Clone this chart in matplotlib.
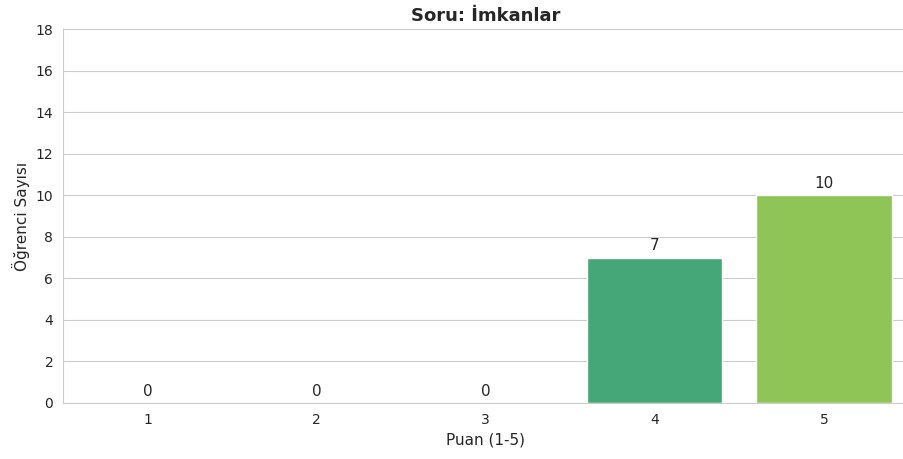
import matplotlib
matplotlib.use("Agg")
from matplotlib import pyplot as plt
import seaborn as sns
import pandas as pd

# data
puan = ["1", "2", "3", "4", "5"]
ogrenci_sayisi = [0, 0, 0, 7, 10]

sns.set_style("whitegrid")
plt.rcParams["font.family"] = ["DejaVu Sans"]

df = pd.DataFrame({"Puan": puan, "Sayi": ogrenci_sayisi})

fig = plt.figure(figsize=(9.04, 4.59), dpi=100)
ax = fig.add_axes([63/904, 56/459, 845.5/904, 374/459])

sns.barplot(data=df, x="Puan", y="Sayi", hue="Puan", palette="viridis",
            legend=False, ax=ax)

for c in ax.containers:
    ax.bar_label(c, padding=3, fontsize=11)

ax.set_xlim(-0.5, 4.5)
ax.set_ylim(0, 18)
ax.set_yticks(range(0, 19, 2))
ax.spines["right"].set_visible(False)
ax.set_title("Soru: İmkanlar", fontweight="bold", fontsize=13)
ax.set_xlabel("Puan (1-5)", fontsize=11)
ax.set_ylabel("Öğrenci Sayısı", fontsize=11)

fig.savefig("out.png", dpi=100)
